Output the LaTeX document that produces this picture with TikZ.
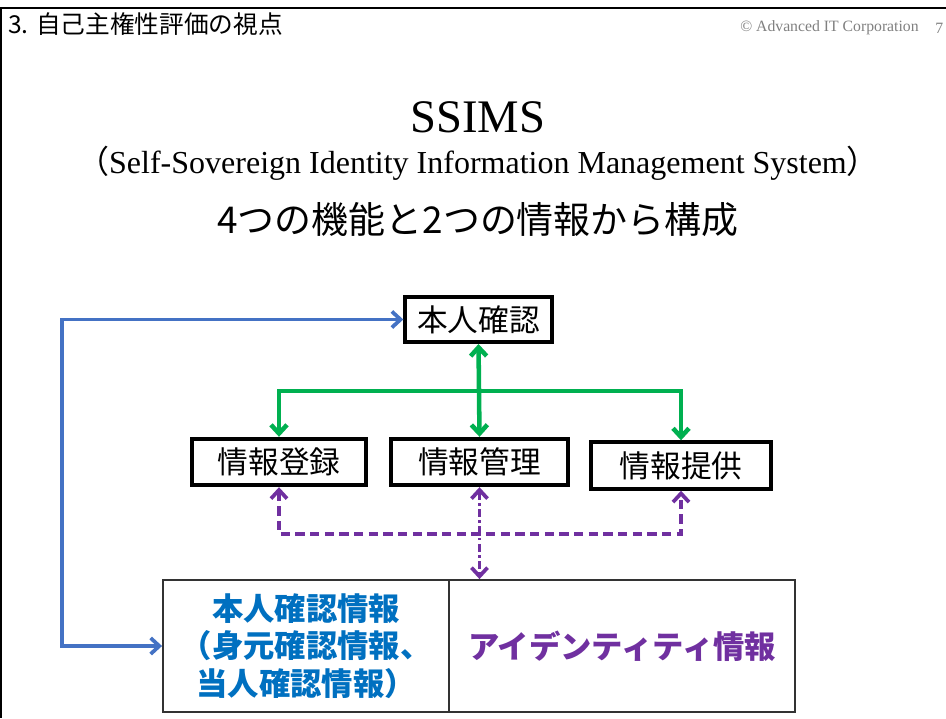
\documentclass[tikz,border=0pt]{standalone}
\usepackage{fontspec}
\setmainfont{Liberation Serif}
\newfontfamily\jp{Noto Sans CJK JP}
\usetikzlibrary{arrows.meta}
\definecolor{ggreen}{HTML}{00B050}
\definecolor{bblue}{HTML}{4472C4}
\definecolor{ppurple}{HTML}{7030A0}
\definecolor{tblue}{HTML}{0070C0}
\definecolor{cgray}{HTML}{808080}
\begin{document}
\begin{tikzpicture}[x=0.75pt,y=-0.75pt,
  fbox/.style={draw=black, line width=2.8pt, fill=white, inner sep=0pt,
    font=\jp\fontsize{23}{28}\selectfont, text=black},
  cell/.style={draw=black!80, line width=1.4pt, inner sep=0pt, align=center,
    font=\jp\bfseries\fontsize{23.5}{28}\selectfont},
  gline/.style={draw=ggreen, line width=3.4pt, {Straight Barb[length=6.5pt,width=12pt]}-{Straight Barb[length=6.5pt,width=12pt]}},
  bline/.style={draw=bblue, line width=2.8pt, {Straight Barb[length=6.5pt,width=12pt]}-{Straight Barb[length=6.5pt,width=12pt]}},
  pline/.style={draw=ppurple, line width=2.8pt, dash pattern=on 7pt off 4pt, {Straight Barb[length=6.5pt,width=12pt]}-{Straight Barb[length=6.5pt,width=12pt]}},
  pdline/.style={draw=ppurple, line width=2.8pt, dash pattern=on 6pt off 2.5pt on 2pt off 2.5pt, {Straight Barb[length=6.5pt,width=12pt]}-{Straight Barb[length=6.5pt,width=12pt]}},
  frame/.style={draw=black, line width=2.2pt}
]
\useasboundingbox (0,0) rectangle (946,718);
\fill[white] (0,0) rectangle (946,718);
% frame
\coordinate (ftl) at (1,8);
\coordinate (ftr) at (946,8);
\coordinate (fbl) at (1,718);
\draw[frame] (ftr) -- (ftl) -- (fbl);

% header
\node[anchor=west, font=\jp\fontsize{18.5}{20}\selectfont, inner sep=0pt] (hdr) at (8,24) {3. 自己主権性評価の視点};
\node[anchor=west, font=\fontsize{11.8}{13}\selectfont, text=cgray, inner sep=0pt] (copy) at (740,28) {© Advanced IT Corporation};
\node[anchor=west, font=\fontsize{11.8}{13}\selectfont, text=cgray, inner sep=0pt] (pg) at (935,28) {7};

% titles
\node[font=\fontsize{35}{40}\selectfont, inner sep=0pt] (t1) at (478,117) {SSIMS};
\node[font=\fontsize{24}{28}\selectfont, inner sep=0pt] (t2) at (478,163) {{\jp （}Self-Sovereign Identity Information Management System{\jp ）}};
\node[font=\jp\fontsize{27.7}{32}\selectfont, inner sep=0pt] (t3) at (478,220) {4つの機能と2つの情報から構成};

% function boxes
\node[fbox, minimum width=110pt, minimum height=34pt] (hon) at (478.5,319.5) {本人確認};
\node[fbox, minimum width=131pt, minimum height=35pt] (reg) at (279,462) {情報登録};
\node[fbox, minimum width=133pt, minimum height=35pt] (man) at (479.5,462) {情報管理};
\node[fbox, minimum width=135pt, minimum height=35pt] (pro) at (681,465.5) {情報提供};

% info table
\node[cell, text=tblue, minimum width=214.5pt, minimum height=99pt] (tl) at (306,646) {本人確認情報\\（身元確認情報、\\当人確認情報）};
\node[cell, text=ppurple, minimum width=259.5pt, minimum height=99pt] (tr) at (622,646) {アイデンティティ情報};

% helper coordinates
\coordinate (bx) at (62,0);
\coordinate (gy) at (0,391);
\coordinate (py) at (0,534);

% green connectors
\draw[gline] (hon.south) -- (man.north);
\draw[gline] (reg.north) -- (reg.north |- gy) -- (pro.north |- gy) -- (pro.north);

% blue connector
\draw[bline] (hon.west) -- (hon.west -| bx) -- (tl.west -| bx) -- (tl.west);

% purple connectors
\draw[pline] (reg.south) -- (reg.south |- py) -- (pro.south |- py) -- (pro.south);
\draw[pdline] (man.south) -- (man.south |- tr.north);
\end{tikzpicture}
\end{document}
